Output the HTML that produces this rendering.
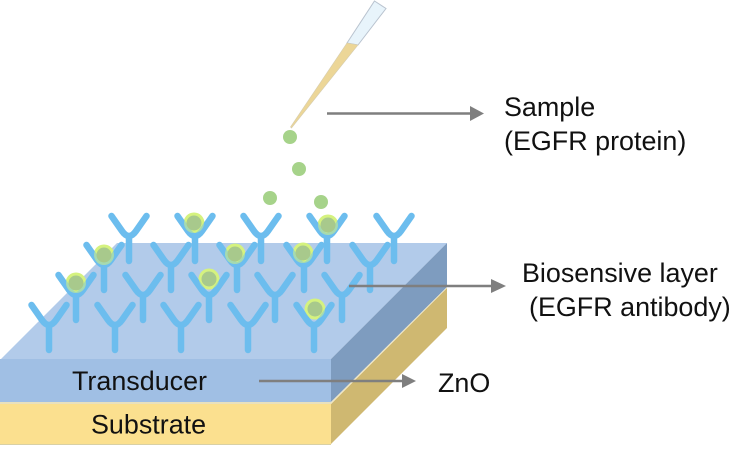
<!DOCTYPE html>
<html>
<head>
<meta charset="utf-8">
<style>
html,body{margin:0;padding:0;background:#fff;width:756px;height:457px;overflow:hidden}
svg{display:block}
text{font-family:"Liberation Sans",sans-serif;fill:#111;font-size:26.9px}
</style>
</head>
<body>
<svg width="756" height="457" viewBox="0 0 756 457" xmlns="http://www.w3.org/2000/svg">
<defs>
<g id="y" fill="none" stroke="#6cbdee" stroke-width="6.5" stroke-linecap="round" stroke-linejoin="round">
<path d="M-17.5 0 L-7 15 Q0 25 7 15 L17.5 0"/>
<path d="M0 21 V45"/>
</g>
<circle id="h" r="10.500" fill="#d5f27f"/>
<g id="c">
<circle r="10" fill="#d5f27f" opacity="0.55"/>
<circle r="7.500" fill="#a8c98c"/>
</g>
</defs>

<!-- pipette -->
<polygon points="374.500,1 386,8.500 358,45 347,43" fill="#e8f4fb" stroke="#b9c3cf" stroke-width="1"/>
<polygon points="347,43 358,45 291.500,128 290.500,127" fill="#ecd697" stroke="#d6cdb0" stroke-width="0.6"/>

<!-- drops -->
<circle cx="290" cy="137" r="7" fill="#a6d38a"/>
<circle cx="299" cy="169" r="7" fill="#a6d38a"/>
<circle cx="270" cy="198" r="7" fill="#a6d38a"/>
<circle cx="321" cy="202" r="7" fill="#a6d38a"/>

<!-- layers -->
<polygon points="0,360 117,243 447,243 331,359" fill="#b2cbea"/>
<rect x="0" y="359" width="331" height="43" fill="#a0bfe4"/>
<polygon points="331,359 447,243 447,287 331,402" fill="#7e9cbf"/>
<polygon points="331,404 447,288 447,328 331,444" fill="#cfb871"/>
<polygon points="331,402 447,287 447,288 331,404" fill="#efe6c4"/>
<rect x="0" y="402" width="331" height="2" fill="#e9e1bd"/>
<rect x="0" y="404" width="331" height="40" fill="#fbe08f"/>
<rect x="0" y="444" width="331" height="1" fill="#d9d0a4"/>

<!-- protein halos, beneath antibody arms -->
<use href="#h" x="194" y="223"/>
<use href="#h" x="328" y="225"/>
<use href="#h" x="104" y="255"/>
<use href="#h" x="235" y="254"/>
<use href="#h" x="303" y="253"/>
<use href="#h" x="76" y="283"/>
<use href="#h" x="209" y="279"/>
<use href="#h" x="315" y="309"/>

<!-- antibodies -->
<use href="#y" x="129" y="216"/>
<use href="#y" x="195" y="216"/>
<use href="#y" x="261" y="216"/>
<use href="#y" x="327" y="216"/>
<use href="#y" x="394" y="216"/>
<use href="#y" x="104" y="245"/>
<use href="#y" x="171" y="245"/>
<use href="#y" x="237" y="245"/>
<use href="#y" x="304" y="245"/>
<use href="#y" x="370" y="245"/>
<use href="#y" x="76" y="275"/>
<use href="#y" x="143" y="275"/>
<use href="#y" x="209" y="275"/>
<use href="#y" x="275" y="275"/>
<use href="#y" x="342" y="275"/>
<use href="#y" x="49" y="305"/>
<use href="#y" x="115" y="305"/>
<use href="#y" x="181" y="305"/>
<use href="#y" x="248" y="305"/>
<use href="#y" x="314" y="305"/>

<!-- protein cores, above antibody arms -->
<use href="#c" x="194" y="223"/>
<use href="#c" x="328" y="225"/>
<use href="#c" x="104" y="255"/>
<use href="#c" x="235" y="254"/>
<use href="#c" x="303" y="253"/>
<use href="#c" x="76" y="283"/>
<use href="#c" x="209" y="279"/>
<use href="#c" x="315" y="309"/>

<!-- arrows -->
<g stroke="#7f7f7f" stroke-width="2.5" fill="none">
<path d="M327 113.500 H472"/>
<path d="M349 286 H495"/>
<path d="M259 381 H404"/>
</g>
<g fill="#7f7f7f">
<polygon points="470,106 484,113.500 470,121"/>
<polygon points="491,279 506,286 491,293"/>
<polygon points="402,374 416,381 402,388"/>
</g>

<!-- labels -->
<text x="72" y="390">Transducer</text>
<text x="91" y="433.500">Substrate</text>
<text x="438" y="392">ZnO</text>
<text x="504" y="116">Sample</text>
<text x="504" y="150">(EGFR protein)</text>
<text x="522" y="282">Biosensive layer</text>
<text x="529" y="316">(EGFR antibody)</text>
</svg>
</body>
</html>
